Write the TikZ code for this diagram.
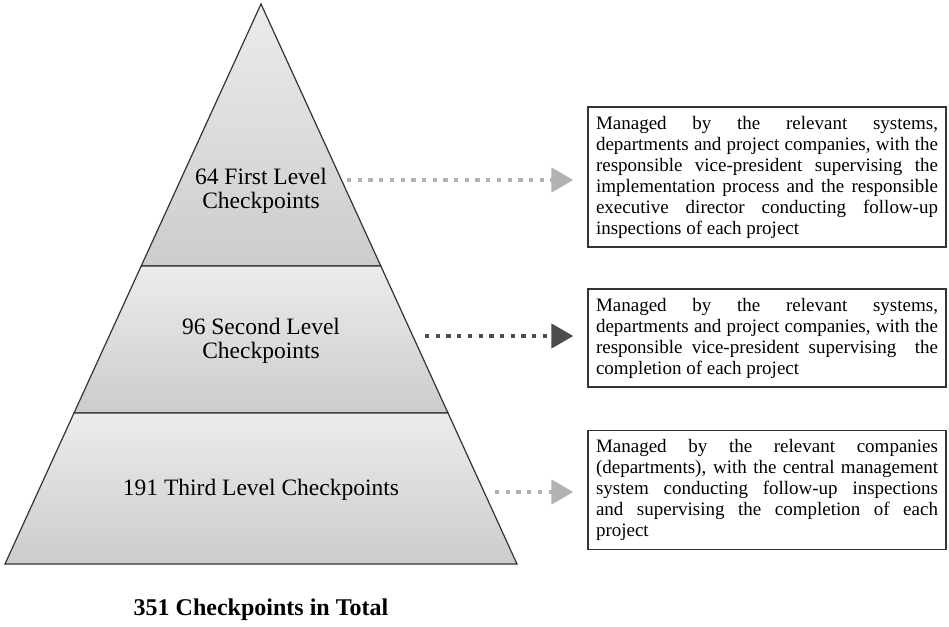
\documentclass[tikz,border=0pt]{standalone}
\usepackage{fontspec}
\setmainfont{Liberation Serif}
\usetikzlibrary{arrows.meta}

\begin{document}
\begin{tikzpicture}[x=1pt, y=-1pt,
    band/.style={draw=black!80, line width=1.2pt, top color=gray!15, bottom color=gray!40},
    lvl/.style={font=\fontsize{23.5}{24.5}\selectfont, align=center},
    desc/.style={draw=black!80, line width=1.3pt, text width=342pt, inner xsep=8pt, inner ysep=9pt,
        align=justify, font=\fontsize{19}{21}\selectfont},
    dots/.style={line width=4.3pt, dash pattern=on 4.3pt off 6.4pt,
        -{Triangle[length=22pt,width=24pt]}, shorten >=14pt}]
\useasboundingbox (0,0) rectangle (949,626);

\draw[band](261,4)--(380.8,266)--(141.2,266)--cycle;
\draw[band](141.2,266)--(380.8,266)--(448,413)--(74,413)--cycle;
\draw[band](74,413)--(448,413)--(517,564)--(5,564)--cycle;

\node[lvl] (first) at (261,191) {64 First Level\\Checkpoints};
\node[lvl] (second) at (261,341) {96 Second Level\\Checkpoints};
\node[lvl] (third) at (261,490) {191 Third Level Checkpoints};
\node[font=\fontsize{24}{26}\selectfont\bfseries] (total) at (261,610) {351 Checkpoints in Total};

\node[desc] (mgmt1) at (767,177) {Managed by the relevant systems,\linebreak
    departments and project companies, with the\linebreak
    responsible vice-president supervising the\linebreak
    implementation process and the responsible\linebreak
    executive director conducting follow-up\linebreak
    inspections of each project};
\node[desc] (mgmt2) at (767,338) {Managed by the relevant systems,\linebreak
    departments and project companies, with the\linebreak
    responsible vice-president supervising \ the\linebreak
    completion of each project};
\node[desc] (mgmt3) at (767,490) {Managed by the relevant companies\linebreak
    (departments), with the central management\linebreak
    system conducting follow-up inspections\linebreak
    and supervising the completion of each\linebreak
    project};

\coordinate (a1) at (347,180);
\coordinate (a2) at (425,336);
\coordinate (a3) at (495,492);
\draw[dots, gray!60](a1)--(a1 -| mgmt1.west);
\draw[dots, black!70](a2)--(a2 -| mgmt2.west);
\draw[dots, gray!60](a3)--(a3 -| mgmt3.west);
\end{tikzpicture}
\end{document}
